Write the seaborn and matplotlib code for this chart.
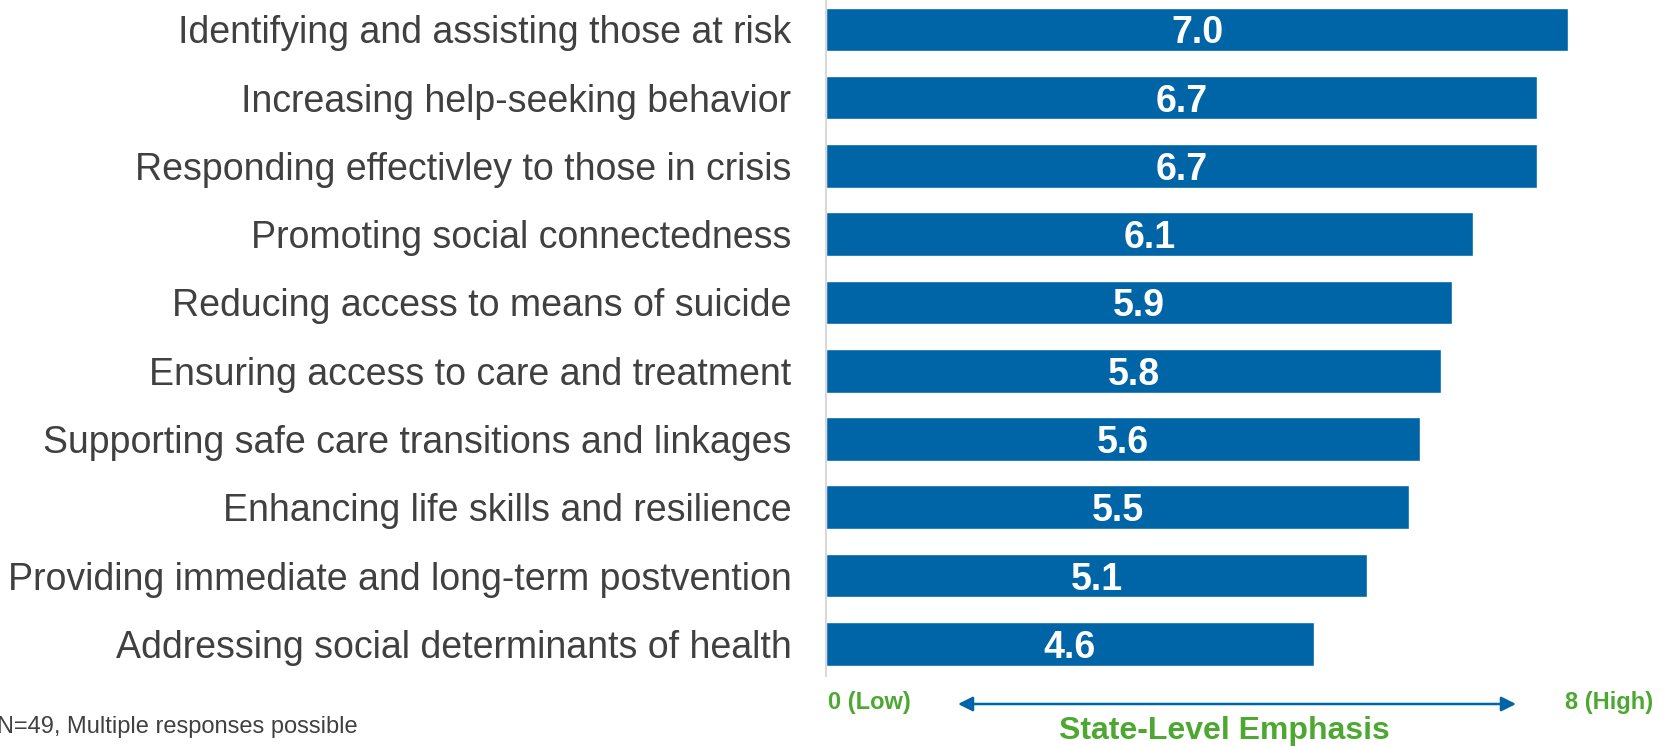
import matplotlib
matplotlib.use("Agg")
import matplotlib.pyplot as plt
import seaborn as sns
import pandas as pd

categories = [
    "Identifying and assisting those at risk",
    "Increasing help-seeking behavior",
    "Responding effectivley to those in crisis",
    "Promoting social connectedness",
    "Reducing access to means of suicide",
    "Ensuring access to care and treatment",
    "Supporting safe care transitions and linkages",
    "Enhancing life skills and resilience",
    "Providing immediate and long-term postvention",
    "Addressing social determinants of health",
]
emphasis = [7.0, 6.7, 6.7, 6.1, 5.9, 5.8, 5.6, 5.5, 5.1, 4.6]
scale_low_label = "0 (Low)"
scale_high_label = "8 (High)"
axis_title = "State-Level Emphasis"
footnote = "N=49, Multiple responses possible"

BLUE = "#0065A6"
GREEN = "#4DA832"
GREY = "#404040"

sns.set_theme(style="white")
plt.rcParams["font.family"] = ["Liberation Sans", "DejaVu Sans"]

df = pd.DataFrame({"category": categories, "emphasis": emphasis})

fig = plt.figure(figsize=(16.65, 7.46), dpi=100)
ax = fig.add_axes([826 / 1665, 1 - 676 / 746, 1 - 826 / 1665, 676 / 746])

sns.barplot(data=df, x="emphasis", y="category", orient="h", color=BLUE,
            saturation=1, width=0.64, ax=ax)

ax.set_xlim(0, (1665 - 826) / 106.05)
ax.set_ylim(9.47, -0.43)

for i, v in enumerate(emphasis):
    ax.text(v / 2, i, f"{v:.1f}", ha="center", va="center_baseline",
            color="white", fontsize=27, fontweight="bold")

ax.set_xlabel("")
ax.set_ylabel("")
ax.set_xticks([])
ax.tick_params(axis="y", length=0, pad=25, labelsize=27, labelcolor=GREY)
for side in ("top", "right", "bottom"):
    ax.spines[side].set_visible(False)
ax.spines["left"].set_color("#D9D9D9")
ax.spines["left"].set_linewidth(1.5)

# Scale annotation below the bars
fig.text(828 / 1665, 1 - 703 / 746, scale_low_label, ha="left", va="center",
         color=GREEN, fontsize=17, fontweight="bold")
fig.text(1653 / 1665, 1 - 703 / 746, scale_high_label, ha="right", va="center",
         color=GREEN, fontsize=17, fontweight="bold")
fig.text(1224 / 1665, 1 - 731 / 746, axis_title, ha="center", va="center",
         color=GREEN, fontsize=23, fontweight="bold")
ax.annotate("", xy=(1516 / 1665, 1 - 704 / 746), xytext=(958 / 1665, 1 - 704 / 746),
            xycoords="figure fraction", textcoords="figure fraction",
            arrowprops=dict(arrowstyle="<|-|>", color=BLUE, lw=1.8,
                            mutation_scale=22, shrinkA=0, shrinkB=0))

fig.text(-3 / 1665, 1 - 727 / 746, footnote, ha="left", va="center",
         color=GREY, fontsize=17)

fig.savefig("out.png", dpi=100)
